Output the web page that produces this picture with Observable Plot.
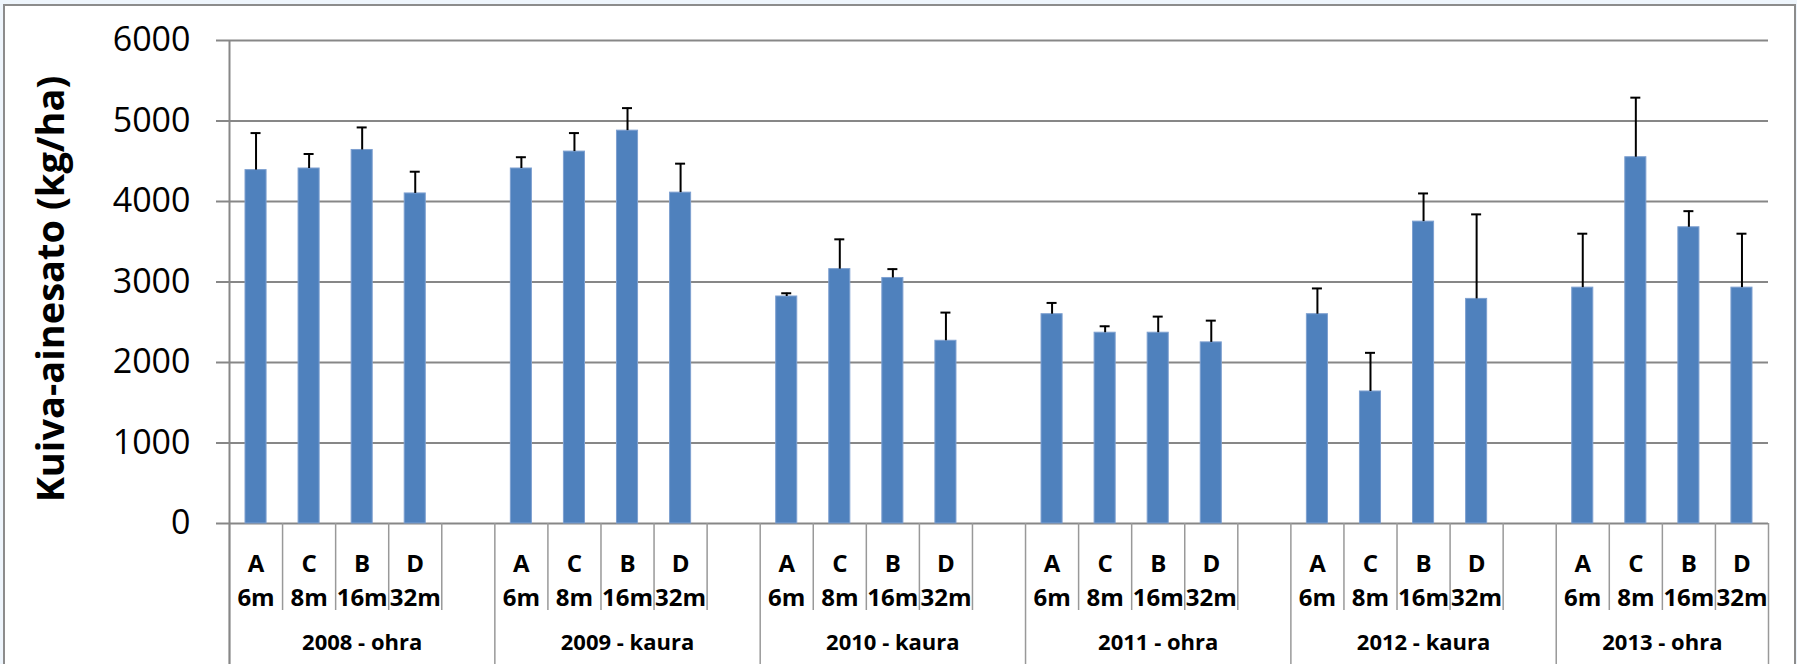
<!DOCTYPE html>
<html><head><meta charset="utf-8">
<script src="https://cdn.jsdelivr.net/npm/d3@7"></script>
<script src="https://cdn.jsdelivr.net/npm/@observablehq/plot@0.6"></script>
<style>
html,body{margin:0;padding:0;background:#eef5fc;width:1797px;height:664px;overflow:hidden;position:relative;font-family:"Open Sans",sans-serif}
#frame{position:absolute;left:3px;top:4px;width:1793px;height:720px;border:2px solid #8c8c8c;background:#fff;box-sizing:border-box}
#chart{position:absolute;left:0;top:0}
</style></head><body><div id="frame"></div><div id="chart"></div>
<script>
// Year / crop groups
const years = ["2008 - ohra", "2009 - kaura", "2010 - kaura", "2011 - ohra", "2012 - kaura", "2013 - ohra"];
// Strip treatments and their widths
const strips = ["A", "C", "B", "D"];
const widths = ["6m", "8m", "16m", "32m"];
// Dry matter yield (kg/ha), per year, in order A, C, B, D
const means = [
  [4390, 4410, 4640, 4100],
  [4410, 4620, 4880, 4110],
  [2820, 3160, 3050, 2270],
  [2600, 2370, 2370, 2250],
  [2600, 1640, 3750, 2790],
  [2930, 4550, 3680, 2930]
];
// Upper error bar length (kg/ha)
const errors = [
  [460, 180, 280, 270],
  [140, 230, 280, 360],
  [40, 370, 110, 350],
  [140, 80, 200, 270],
  [320, 480, 350, 1050],
  [670, 740, 200, 670]
];
const yTicks = [0, 1000, 2000, 3000, 4000, 5000, 6000];
const yTitle = "Kuiva-ainesato (kg/ha)";

const slotsPerGroup = strips.length + 1;
const nSlots = years.length * slotsPerGroup - 1;
const rows = [];
years.forEach((yr, g) => strips.forEach((s, j) => rows.push({
  slot: g * slotsPerGroup + j,
  group: yr,
  label: s + "\n" + widths[j],
  mean: means[g][j],
  top: means[g][j] + errors[g][j]
})));
const groupLabels = years.map((yr, g) => ({
  yr,
  mid: (g * slotsPerGroup + Math.min((g + 1) * slotsPerGroup, nSlots)) / 2
}));
const bounds = d3.range(0, nSlots + 1);
const groupBounds = bounds.filter(b => b % slotsPerGroup === 0 || b === nSlots);
const minorBounds = bounds.filter(b => !groupBounds.includes(b));

const W = 1797, H = 664, mL = 229, mR = 29, mT = 40, mB = 141;
const innerH = H - mT - mB;
const grid = "#878787";

const chart = Plot.plot({
  width: W, height: H,
  marginLeft: mL, marginRight: mR, marginTop: mT, marginBottom: mB,
  style: {background: "transparent", fontFamily: "'Open Sans', sans-serif", color: "black", maxWidth: "none"},
  x: {domain: [0, nSlots], axis: null},
  y: {domain: [0, 6000], axis: null},
  marks: [
    Plot.ruleY(yTicks, {stroke: grid, strokeWidth: 2, insetLeft: -13}),
    Plot.ruleX(minorBounds, {stroke: "#999", strokeWidth: 1.5, insetTop: innerH, insetBottom: -87}),
    Plot.ruleX(groupBounds, {stroke: "#999", strokeWidth: 1.5, insetTop: innerH, insetBottom: -mB}),
    Plot.ruleX([0], {stroke: grid, strokeWidth: 2, insetBottom: -mB}),
    Plot.rectY(rows, {x1: d => d.slot, x2: d => d.slot + 1, y: "mean", insetLeft: 16, insetRight: 16, fill: "#4F81BD", stroke: "#7ea0d0", strokeWidth: 1}),
    Plot.ruleX(rows, {x: d => d.slot + 0.5, y1: "mean", y2: "top", stroke: "black", strokeWidth: 2}),
    Plot.ruleY(rows, {y: "top", x1: d => d.slot + 0.5, x2: d => d.slot + 0.5, insetLeft: -5, insetRight: -5, stroke: "black", strokeWidth: 2}),
    Plot.axisY({ticks: yTicks, tickSize: 0, tickPadding: 39, fontSize: 34, tickFormat: d => String(d)}),
    Plot.text(rows, {x: d => d.slot + 0.5, text: "label", frameAnchor: "bottom", lineAnchor: "middle", textAnchor: "middle", dy: 55, lineHeight: 1.4, fontSize: 24, fontWeight: "bold", fill: "black"}),
    Plot.text(groupLabels, {x: "mid", text: "yr", frameAnchor: "bottom", lineAnchor: "middle", textAnchor: "middle", dy: 119, fontSize: 22, fontWeight: "bold", fill: "black"}),
    Plot.text([yTitle], {frameAnchor: "left", textAnchor: "middle", lineAnchor: "middle", rotate: -90, dx: -178, dy: 7, fontSize: 38, fontWeight: "bold", fill: "black"})
  ]
});
document.getElementById("chart").appendChild(chart);
</script></body></html>
